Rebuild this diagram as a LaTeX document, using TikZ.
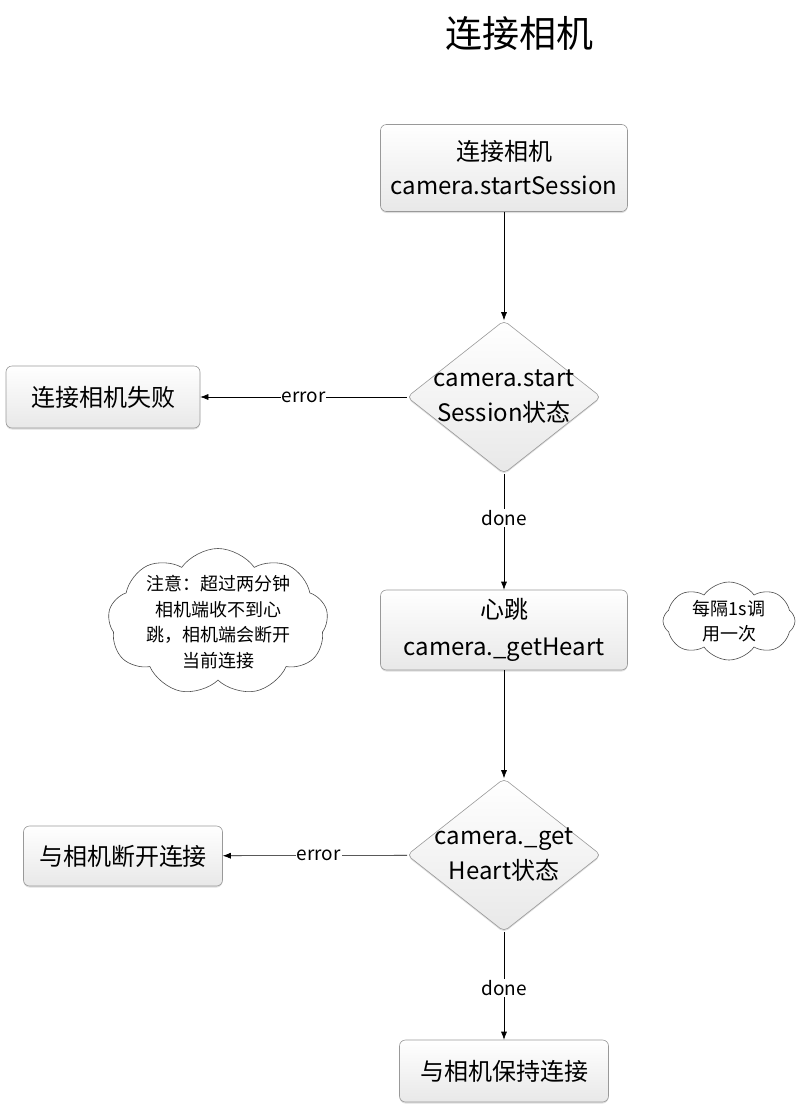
\documentclass[tikz,border=0pt]{standalone}
\usepackage{fontspec}
\setmainfont{Noto Sans CJK SC}
\usetikzlibrary{shapes.geometric,shapes.symbols,shadows,arrows.meta}

\tikzset{
	stepbox/.style={draw=gray!80, rounded corners=6pt, top color=white, bottom color=gray!18,
		drop shadow={opacity=0.25, shadow xshift=0pt, shadow yshift=-1.5pt},
		align=center, font=\fontsize{24}{34}\selectfont, inner sep=0pt},
	decide/.style={diamond, draw=gray!80, rounded corners=5pt, top color=white, bottom color=gray!18,
		drop shadow={opacity=0.25, shadow xshift=0pt, shadow yshift=-1.5pt},
		minimum width=194pt, minimum height=153pt, inner sep=0pt},
	note/.style={cloud, cloud puffs=9, cloud puff arc=110, cloud ignores aspect, draw=black!70, fill=white, inner sep=0pt},
	notetext/.style={align=center, font=\fontsize{18}{25.7}\selectfont},
	lbl/.style={fill=white, inner sep=1pt, font=\fontsize{19}{22}\selectfont}
}

\begin{document}
\begin{tikzpicture}[>={Latex[length=8pt,width=6pt]}, x=1pt, y=-1pt, line width=0.6pt]
	\useasboundingbox (0,0) rectangle (800,1109);
	
	\coordinate (pos1) at (504,168);
	\coordinate (pos2) at (504,397);
	\coordinate (pos3) at (504,630);
	\coordinate (pos4) at (504,855);
	\coordinate (pos5) at (504,1071);
	
	\node[font=\fontsize{37}{40}\selectfont] (title) at (519,33) {连接相机};
	
	\node[stepbox, minimum width=247pt, minimum height=87pt] (start) at (pos1) {连接相机\\camera.startSession};
	\node[decide, label={[align=center, font=\fontsize{24}{35}\selectfont]center:camera.start\\Session状态}] (check1) at (pos2) {};
	\node[stepbox, minimum width=194pt, minimum height=62pt] (fail) at (103,397) {连接相机失败};
	\node[stepbox, minimum width=247pt, minimum height=80pt, font=\fontsize{24}{37}\selectfont] (heart) at (pos3) {心跳\\camera.\_getHeart};
	\node[decide, label={[align=center, font=\fontsize{24}{35}\selectfont]center:camera.\_get\\Heart状态}] (check2) at (pos4) {};
	\node[stepbox, minimum width=199pt, minimum height=60pt] (lost) at (123,856) {与相机断开连接};
	\node[stepbox, minimum width=209pt, minimum height=62pt] (keep) at (pos5) {与相机保持连接};
	
	\node[note, minimum width=220pt, minimum height=147pt,
		label={[notetext]center:注意：超过两分钟\\相机端收不到心\\跳，相机端会断开\\当前连接}] (warn) at (218,622) {};
	\node[note, minimum width=132pt, minimum height=78pt, cloud puffs=8,
		label={[notetext]center:每隔1s调\\用一次}] (tick) at (729,621) {};
	
	\draw[->] (start) -- (check1);
	\draw[->] (check1) -- node[lbl] {error} (fail);
	\draw[->] (check1) -- node[lbl, pos=0.38] {done} (heart);
	\draw[->] (heart) -- (check2);
	\draw[->] (check2) -- node[lbl, pos=0.48] {error} (lost);
	\draw[->] (check2) -- node[lbl, pos=0.52] {done} (keep);
\end{tikzpicture}
\end{document}
